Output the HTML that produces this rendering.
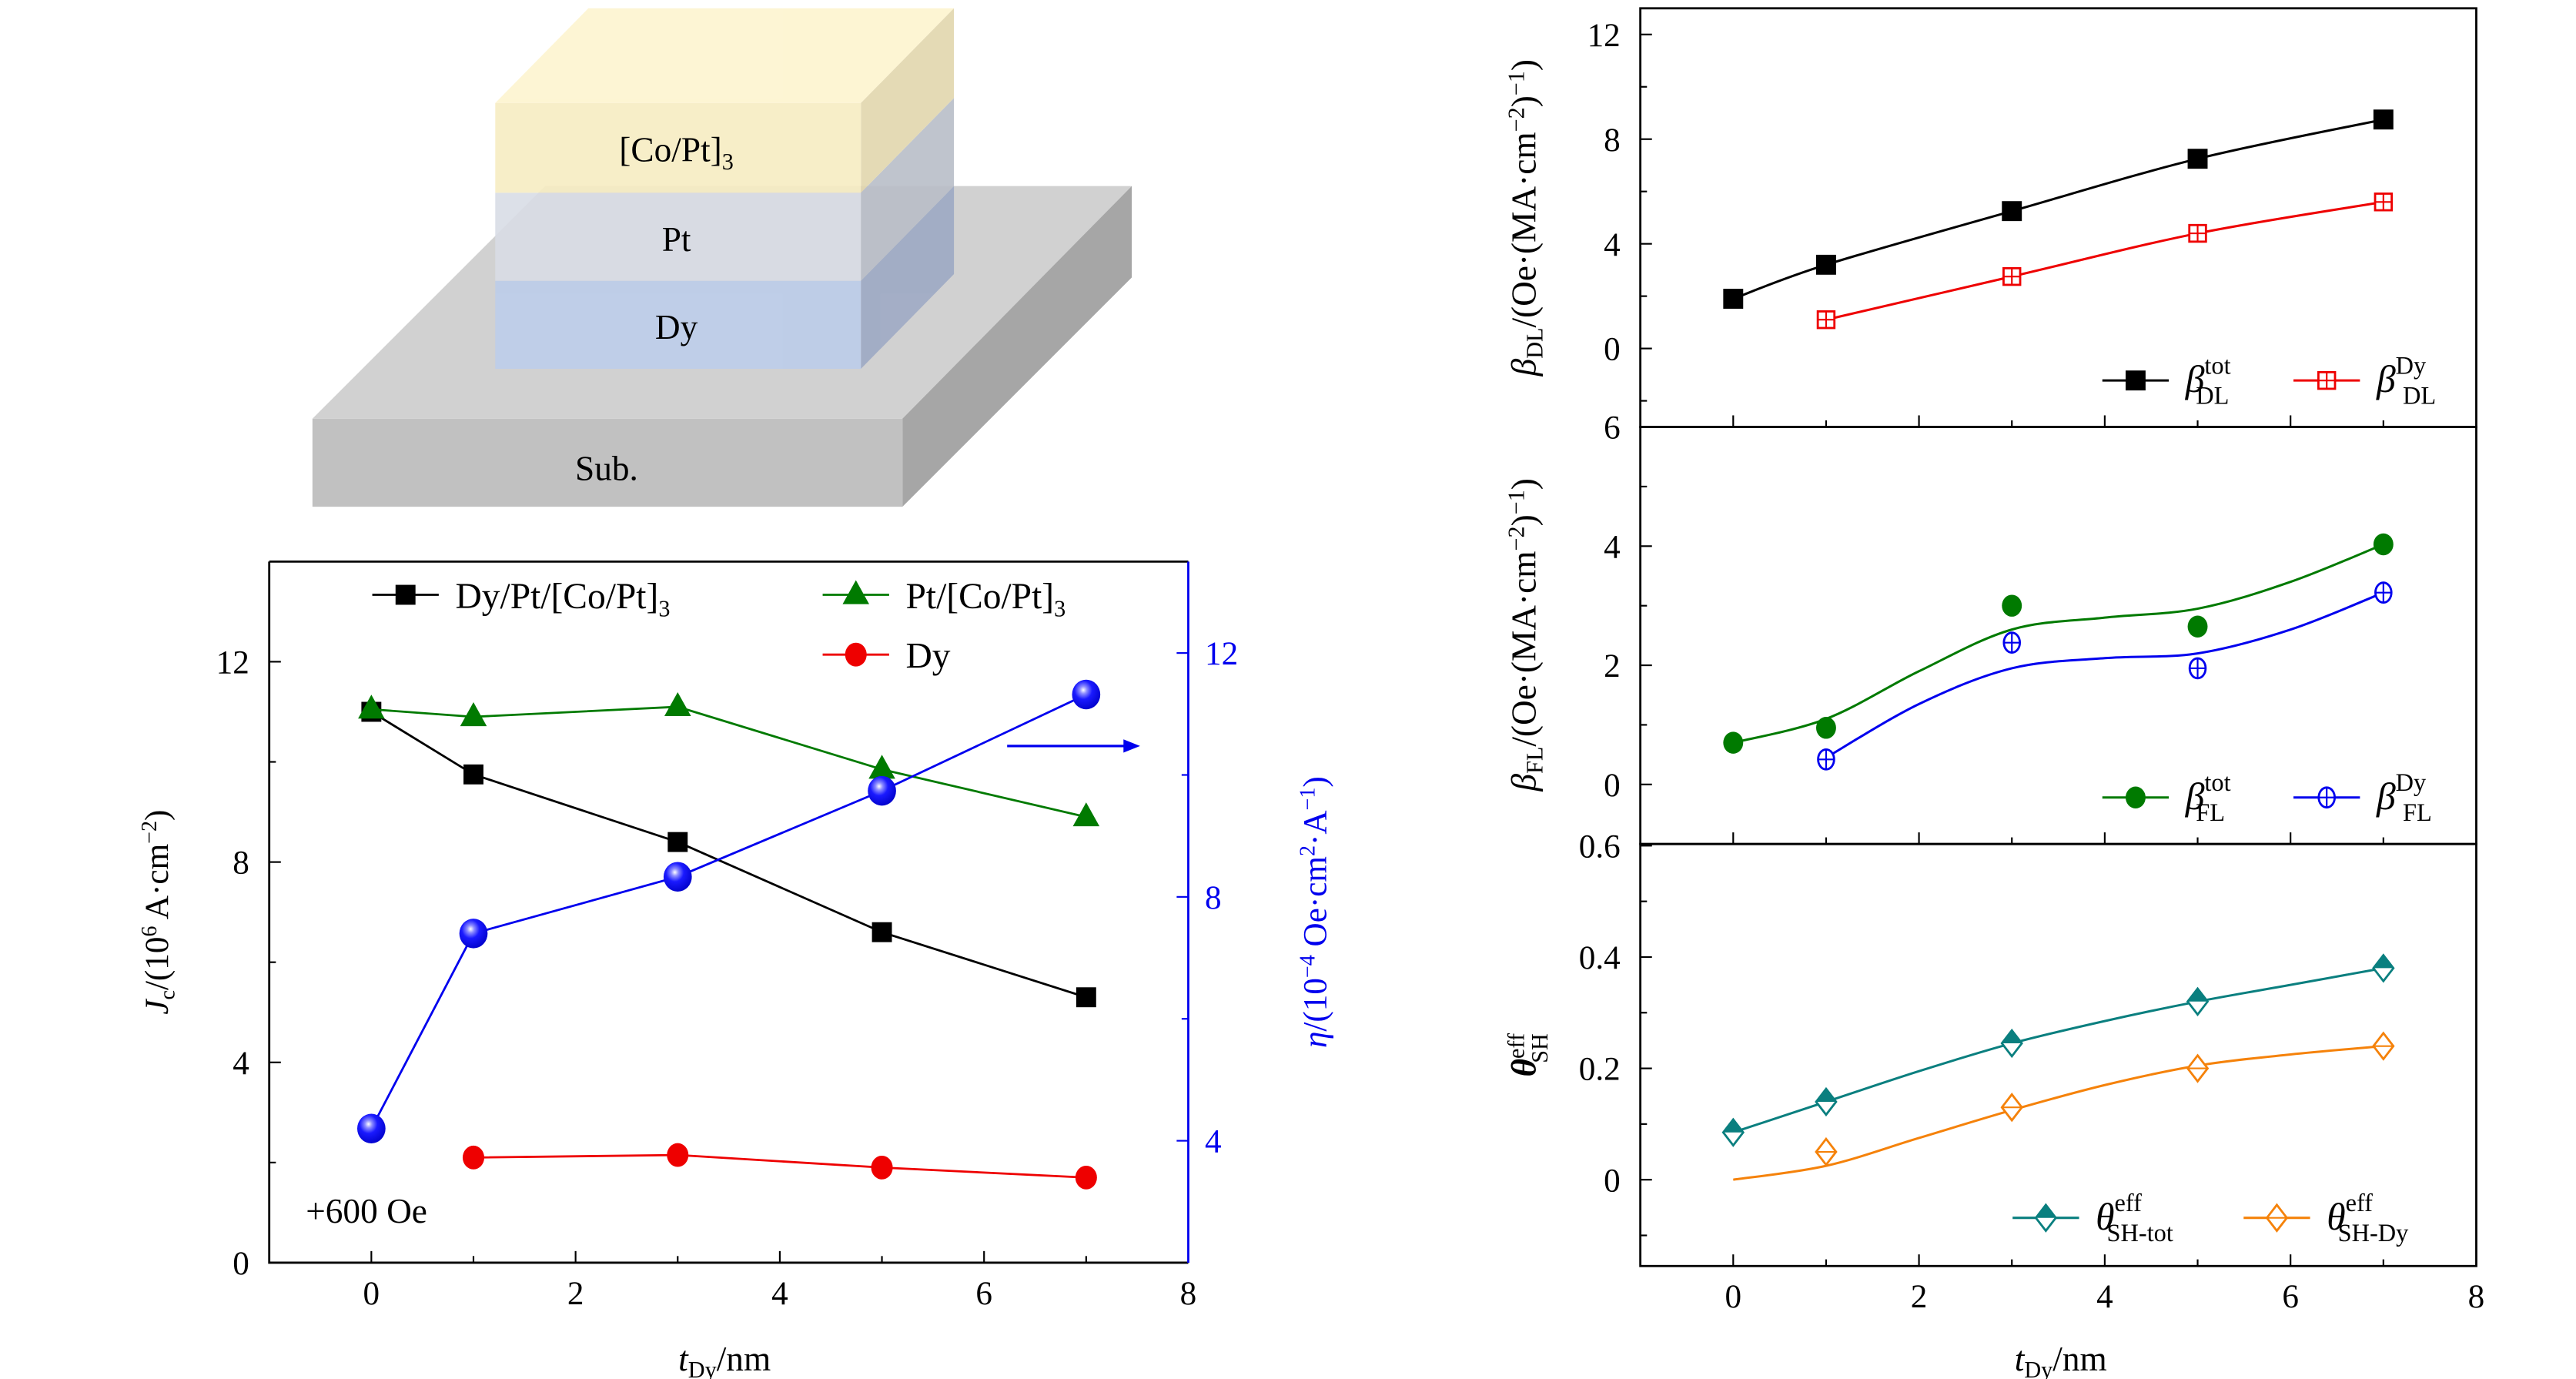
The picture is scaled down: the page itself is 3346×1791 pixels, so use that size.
<!DOCTYPE html>
<html><head><meta charset="utf-8"><style>
html,body{margin:0;padding:0;background:#fff;}
svg{display:block;}
text{font-family:"Liberation Serif",serif;}
</style></head><body>
<svg id="fig" width="3346" height="1791" viewBox="0 0 1550 830" preserveAspectRatio="none" xmlns="http://www.w3.org/2000/svg">
<defs>
<radialGradient id="sph" cx="0.4" cy="0.35" r="0.7">
<stop offset="0" stop-color="#ffffff"/><stop offset="0.18" stop-color="#8d8dff"/><stop offset="0.45" stop-color="#1a1aff"/><stop offset="1" stop-color="#0000c8"/>
</radialGradient>
</defs>
<g id="schematic">
<polygon points="188,252 543,252 681,112 328,112" fill="#d1d1d1"/>
<polygon points="543,252 681,112 681,167 543,305" fill="#a6a6a6"/>
<rect x="188" y="252" width="355" height="53" fill="#c1c1c1"/>
<text x="365" y="289" font-size="21" text-anchor="middle">Sub.</text>
<g opacity="0.9">
<polygon points="518,169 574,112 574,165 518,222" fill="#9eaac4"/>
<rect x="298" y="169" width="220" height="53" fill="#bdcdea"/>
<polygon points="518,116 574,59 574,112 518,169" fill="#b9bec8"/>
<rect x="298" y="116" width="220" height="53" fill="#d9dde6"/>
<polygon points="298,62 518,62 574,5 354,5" fill="#fdf4cf"/>
<polygon points="518,62 574,5 574,59 518,116" fill="#e2d6ad"/>
<rect x="298" y="62" width="220" height="54" fill="#f7edc3"/>
</g>
<text x="407" y="97" font-size="21" text-anchor="middle">[Co/Pt]<tspan font-size="14" dy="5">3</tspan></text>
<text x="407" y="151" font-size="21" text-anchor="middle">Pt</text>
<text x="407" y="204" font-size="21" text-anchor="middle">Dy</text>
</g>
<g id="left"></g>
<g id="right"></g>
</svg>
<script>
// ---------- Left chart data ----------
const xL = [0, 1, 3, 5, 7];
const jcDyPt = [11.0, 9.75, 8.4, 6.6, 5.3];
const jcPt = [11.05, 10.9, 11.1, 9.85, 8.9];
const xDy = [1, 3, 5, 7];
const jcDy = [2.1, 2.15, 1.9, 1.7];
const etaVals = [4.2, 7.4, 8.33, 9.74, 11.32];
const xTicksL = [0, 2, 4, 6, 8];
const yTicksL = [0, 4, 8, 12];
const yTicksR = [4, 8, 12];

// ---------- Right chart data ----------
const xR = [0, 1, 3, 5, 7];
const xRDy = [1, 3, 5, 7];
const dlTot = [1.9, 3.2, 5.25, 7.25, 8.75];
const dlDy = [1.1, 2.75, 4.4, 5.6];
const flTot = [0.7, 0.95, 3.0, 2.65, 4.03];
const flDy = [0.42, 2.38, 1.95, 3.22];
const fitX = [0, 1, 2, 3, 4, 5, 6, 7];
const flTotFit = [0.7, 1.1, 1.9, 2.6, 2.8, 2.95, 3.4, 4.03];
const fitXDy = [1, 2, 3, 4, 5, 6, 7];
const flDyFit = [0.45, 1.35, 1.95, 2.12, 2.2, 2.6, 3.22];
const thTot = [0.085, 0.14, 0.245, 0.32, 0.38];
const thTotFit = [0.085, 0.14, 0.195, 0.245, 0.285, 0.32, 0.35, 0.38];
const thDy = [0.05, 0.13, 0.2, 0.24];
const thDyFit = [0, 0.025, 0.075, 0.125, 0.17, 0.205, 0.225, 0.24];
const xTicksR = [0, 2, 4, 6, 8];
const yTicksDL = [0, 4, 8, 12];
const yTicksFL = [0, 2, 4, 6];
const yTicksTH = [0, 0.2, 0.4, 0.6];

const NS = "http://www.w3.org/2000/svg";
function mk(parent, tag, attrs, txt) {
  const e = document.createElementNS(NS, tag);
  for (const k in attrs) e.setAttribute(k, attrs[k]);
  if (txt !== undefined) e.textContent = txt;
  parent.appendChild(e);
  return e;
}
function lin(d0, d1, r0, r1) { return v => r0 + (v - d0) * (r1 - r0) / (d1 - d0); }
function polyPath(xs, ys, sx, sy) { return xs.map((x, i) => (i ? "L" : "M") + sx(x) + "," + sy(ys[i])).join(" "); }
function smoothPath(xs, ys, sx, sy) {
  const p = xs.map((x, i) => [sx(x), sy(ys[i])]);
  let d = "M" + p[0][0] + "," + p[0][1];
  for (let i = 0; i < p.length - 1; i++) {
    const p0 = p[i - 1] || p[i], p1 = p[i], p2 = p[i + 1], p3 = p[i + 2] || p2;
    const c1 = [p1[0] + (p2[0] - p0[0]) / 6, p1[1] + (p2[1] - p0[1]) / 6];
    const c2 = [p2[0] - (p3[0] - p1[0]) / 6, p2[1] - (p3[1] - p1[1]) / 6];
    d += " C" + c1 + " " + c2 + " " + p2;
  }
  return d;
}
function marker(g, type, cx, cy, color, s) {
  let e;
  if (type === "square") e = mk(g, "rect", {x: cx - s, y: cy - s, width: 2 * s, height: 2 * s, fill: color});
  else if (type === "osquare") { e = mk(g, "rect", {x: cx - s, y: cy - s, width: 2 * s, height: 2 * s, fill: "#fff", stroke: color, "stroke-width": 1.3});
    mk(g, "path", {d: `M${cx - s},${cy}H${cx + s}M${cx},${cy - s}V${cy + s}`, stroke: color, "stroke-width": 1}); }
  else if (type === "circle") e = mk(g, "ellipse", {cx, cy, rx: s, ry: s * 1.1, fill: color});
  else if (type === "ocircle") { e = mk(g, "ellipse", {cx, cy, rx: s * 0.8, ry: s, fill: "#fff", stroke: color, "stroke-width": 1.3});
    mk(g, "path", {d: `M${cx - s * 0.8},${cy}H${cx + s * 0.8}M${cx},${cy - s}V${cy + s}`, stroke: color, "stroke-width": 1}); }
  else if (type === "tri") e = mk(g, "polygon", {points: `${cx},${cy - s * 1.1} ${cx - s},${cy + s * 0.7} ${cx + s},${cy + s * 0.7}`, fill: color});
  else if (type === "sphere") e = mk(g, "ellipse", {cx, cy, rx: s, ry: s * 1.05, fill: "url(#sph)"});
  else if (type === "diamond") { e = mk(g, "polygon", {points: `${cx},${cy - s * 1.3} ${cx + s},${cy} ${cx},${cy + s * 1.3} ${cx - s},${cy}`, fill: "#fff", stroke: color, "stroke-width": 1.3});
    mk(g, "polygon", {points: `${cx},${cy - s * 1.3} ${cx + s},${cy} ${cx - s},${cy}`, fill: color}); }
  else if (type === "odiamond") { e = mk(g, "polygon", {points: `${cx},${cy - s * 1.3} ${cx + s},${cy} ${cx},${cy + s * 1.3} ${cx - s},${cy}`, fill: "#fff", stroke: color, "stroke-width": 1.3});
    mk(g, "path", {d: `M${cx - s},${cy}H${cx + s}`, stroke: color, "stroke-width": 1}); }
  return e;
}

// ---------- Left chart ----------
(function () {
  const g = document.getElementById("left");
  const L = 162, R = 715, T = 338, B = 760;
  const sx = lin(-1, 8, L, R), sy = lin(0, 14, B, T), sy2 = lin(2, 13.5, B, T);
  const fr = mk(g, "path", {d: `M${L},${T}H${R}M${L},${T}V${B}H${R}`, stroke: "#000", "stroke-width": 1.3, fill: "none"});
  
  
  const ra = mk(g, "line", {x1: R, y1: T, x2: R, y2: B, stroke: "#0000ee", "stroke-width": 1.3});
  
  
  for (let v = 0; v <= 7; v++) { const big = v % 2 === 0; mk(g, "line", {x1: sx(v), x2: sx(v), y1: B, y2: B - (big ? 7 : 4), stroke: "#000", "stroke-width": 1}); }
  xTicksL.forEach(v => { const t = mk(g, "text", {x: sx(v), y: B + 25, "font-size": 20, "text-anchor": "middle"}, v);
    
     });
  for (let v = 2; v <= 12; v += 2) { const big = v % 4 === 0; mk(g, "line", {x1: L, x2: L + (big ? 7 : 4), y1: sy(v), y2: sy(v), stroke: "#000", "stroke-width": 1}); }
  yTicksL.forEach(v => { const t = mk(g, "text", {x: L - 12, y: sy(v) + 7, "font-size": 20, "text-anchor": "end"}, v);
    
     });
  for (let v = 4; v <= 12; v += 2) { const big = v % 4 === 0; mk(g, "line", {x1: R, x2: R - (big ? 7 : 4), y1: sy2(v), y2: sy2(v), stroke: "#0000ee", "stroke-width": 1}); }
  yTicksR.forEach(v => { const t = mk(g, "text", {x: R + 10, y: sy2(v) + 7, "font-size": 20, fill: "#0000ee"}, v);
    
     });

  const series = [
    {xs: xL, ys: jcDyPt, c: "#000", m: "square", s: 6, sc: sy, n: "series-dy-pt-copt"},
    {xs: xL, ys: jcPt, c: "#007a00", m: "tri", s: 8, sc: sy, n: "series-pt-copt"},
    {xs: xDy, ys: jcDy, c: "#ee0000", m: "circle", s: 6.5, sc: sy, n: "series-dy"},
    {xs: xL, ys: etaVals, c: "#0000ee", m: "sphere", s: 8.5, sc: sy2, n: "series-eta"}];
  series.forEach(S => {
    const p = mk(g, "path", {d: polyPath(S.xs, S.ys, sx, S.sc), stroke: S.c, "stroke-width": 1.3, fill: "none"});
    
    
    S.xs.forEach((x, i) => { const m = marker(g, S.m, sx(x), S.sc(S.ys[i]), S.c, S.s);
      
       });
  });
  const leg = [[224, 358, "#000", "square", 6, "Dy/Pt/[Co/Pt]", true], [495, 358, "#007a00", "tri", 8, "Pt/[Co/Pt]", true], [495, 394, "#ee0000", "circle", 6.5, "Dy", false]];
  leg.forEach(l => {
    mk(g, "line", {x1: l[0], x2: l[0] + 40, y1: l[1], y2: l[1], stroke: l[2], "stroke-width": 1.3});
    marker(g, l[3], l[0] + 20, l[1], l[2], l[4]);
    const t = mk(g, "text", {x: l[0] + 50, y: l[1] + 8, "font-size": 22}, l[5]);
    if (l[6]) mk(t, "tspan", {"font-size": 14, dy: 5}, "3");
    
    
  });
  const ar = mk(g, "path", {d: "M606,449H678", stroke: "#0000ee", "stroke-width": 1.5});
  
  
  mk(g, "polygon", {points: "686,449 676,445 676,453", fill: "#0000ee"});
  const an = mk(g, "text", {x: 184, y: 736, "font-size": 21}, "+600 Oe");
  
  
  const xl = mk(g, "text", {x: 436, y: 825, "font-size": 21, "text-anchor": "middle"});
  xl.innerHTML = '<tspan font-style="italic">t</tspan><tspan font-size="14" dy="4">Dy</tspan><tspan dy="-4">/nm</tspan>';
  
  
  const yl = mk(g, "text", {transform: "translate(101,549) rotate(-90)", "font-size": 20, "text-anchor": "middle"});
  yl.innerHTML = '<tspan font-style="italic">J</tspan><tspan font-size="13" dy="4">c</tspan><tspan dy="-4">/(10</tspan><tspan font-size="13" dy="-7">6</tspan><tspan dy="7"> A·cm</tspan><tspan font-size="13" dy="-7">−2</tspan><tspan dy="7">)</tspan>';
  
  
  const yr = mk(g, "text", {transform: "translate(798,549) rotate(-90)", "font-size": 20, "text-anchor": "middle", fill: "#0000ee"});
  yr.innerHTML = '<tspan font-style="italic">η</tspan>/(10<tspan font-size="13" dy="-7">−4</tspan><tspan dy="7"> Oe·cm</tspan><tspan font-size="13" dy="-7">2</tspan><tspan dy="7">·A</tspan><tspan font-size="13" dy="-7">−1</tspan><tspan dy="7">)</tspan>';
  
  
})();

// ---------- Right stacked panels ----------
(function () {
  const g = document.getElementById("right");
  const L = 987, R = 1490;
  const sx = lin(-1, 8, L, R);
  const panels = [
    {T: 5, B: 257, d0: -3, d1: 13, ticks: yTicksDL, minor: [-2, 2, 6, 10], n: "dl"},
    {T: 257, B: 508, d0: -1, d1: 6, ticks: yTicksFL, minor: [1, 3, 5], n: "fl"},
    {T: 508, B: 762, d0: -0.155, d1: 0.603, ticks: yTicksTH, minor: [-0.1, 0.1, 0.3, 0.5], n: "theta"}];
  panels.forEach(P => {
    P.sy = lin(P.d0, P.d1, P.B, P.T);
    const r = mk(g, "rect", {x: L, y: P.T, width: R - L, height: P.B - P.T, fill: "none", stroke: "#000", "stroke-width": 1.3});
    
    
    for (let v = 0; v <= 7; v++) { const big = v % 2 === 0; mk(g, "line", {x1: sx(v), x2: sx(v), y1: P.B, y2: P.B - (big ? 7 : 4), stroke: "#000", "stroke-width": 1}); }
    P.ticks.forEach(v => { mk(g, "line", {x1: L, x2: L + 7, y1: P.sy(v), y2: P.sy(v), stroke: "#000", "stroke-width": 1});
      const t = mk(g, "text", {x: L - 12, y: P.sy(v) + 7, "font-size": 20, "text-anchor": "end"}, v);
      
       });
    P.minor.forEach(v => mk(g, "line", {x1: L, x2: L + 4, y1: P.sy(v), y2: P.sy(v), stroke: "#000", "stroke-width": 1}));
  });
  xTicksR.forEach(v => { const t = mk(g, "text", {x: sx(v), y: 787, "font-size": 20, "text-anchor": "middle"}, v);
    
     });
  const [p1, p2, p3] = panels;
  const series = [
    {xs: xR, ys: dlTot, fx: xR, fy: dlTot, P: p1, c: "#000", m: "square", s: 6, n: "beta-dl-tot"},
    {xs: xRDy, ys: dlDy, fx: xRDy, fy: dlDy, P: p1, c: "#ee0000", m: "osquare", s: 5, n: "beta-dl-dy"},
    {xs: xR, ys: flTot, fx: fitX, fy: flTotFit, P: p2, c: "#007a00", m: "circle", s: 6, n: "beta-fl-tot"},
    {xs: xRDy, ys: flDy, fx: fitXDy, fy: flDyFit, P: p2, c: "#0000ee", m: "ocircle", s: 6, n: "beta-fl-dy"},
    {xs: xR, ys: thTot, fx: fitX, fy: thTotFit, P: p3, c: "#0a7f7f", m: "diamond", s: 6, n: "theta-tot"},
    {xs: xRDy, ys: thDy, fx: fitX, fy: thDyFit, P: p3, c: "#f5820a", m: "odiamond", s: 6, n: "theta-dy"}];
  series.forEach(S => {
    const p = mk(g, "path", {d: smoothPath(S.fx, S.fy, sx, S.P.sy), stroke: S.c, "stroke-width": 1.4, fill: "none"});
    
    
    S.xs.forEach((x, i) => { const m = marker(g, S.m, sx(x), S.P.sy(S.ys[i]), S.c, S.s);
      
       });
  });
  const legs = [
    [1265, 229, "#000", "square", 6, "β", "tot", "DL"], [1380, 229, "#ee0000", "osquare", 5, "β", "Dy", "DL"],
    [1265, 480, "#007a00", "circle", 6, "β", "tot", "FL"], [1380, 480, "#0000ee", "ocircle", 6, "β", "Dy", "FL"],
    [1211, 733, "#0a7f7f", "diamond", 6, "θ", "eff", "SH-tot"], [1350, 733, "#f5820a", "odiamond", 6, "θ", "eff", "SH-Dy"]];
  legs.forEach(l => {
    mk(g, "line", {x1: l[0], x2: l[0] + 40, y1: l[1], y2: l[1], stroke: l[2], "stroke-width": 1.4});
    marker(g, l[3], l[0] + 20, l[1], l[2], l[4]);
    const t = mk(g, "text", {x: l[0] + 50, y: l[1] + 7, "font-size": 23});
    t.innerHTML = `<tspan font-style="italic">${l[5]}</tspan><tspan font-size="15" dy="-11">${l[6]}</tspan><tspan font-size="15" dx="-${l[6].length * 7}" dy="18">${l[7]}</tspan>`;
    
    
  });
  const yt = [[131, "DL"], [382, "FL"]];
  yt.forEach(y => {
    const t = mk(g, "text", {transform: `translate(924,${y[0]}) rotate(-90)`, "font-size": 21, "text-anchor": "middle"});
    t.innerHTML = `<tspan font-style="italic">β</tspan><tspan font-size="14" dy="4">${y[1]}</tspan><tspan dy="-4">/(Oe·(MA·cm</tspan><tspan font-size="14" dy="-7">−2</tspan><tspan dy="7">)</tspan><tspan font-size="14" dy="-7">−1</tspan><tspan dy="7">)</tspan>`;
    
    
  });
  const tt = mk(g, "text", {transform: "translate(924,635) rotate(-90)", "font-size": 21, "text-anchor": "middle"});
  tt.innerHTML = '<tspan font-style="italic" font-weight="bold">θ</tspan><tspan font-size="14" dy="-7">eff</tspan><tspan font-size="14" dx="-18" dy="14">SH</tspan>';
  
  
  const xl = mk(g, "text", {x: 1240, y: 825, "font-size": 21, "text-anchor": "middle"});
  xl.innerHTML = '<tspan font-style="italic">t</tspan><tspan font-size="14" dy="4">Dy</tspan><tspan dy="-4">/nm</tspan>';
  
  
})();
</script>
</body></html>
